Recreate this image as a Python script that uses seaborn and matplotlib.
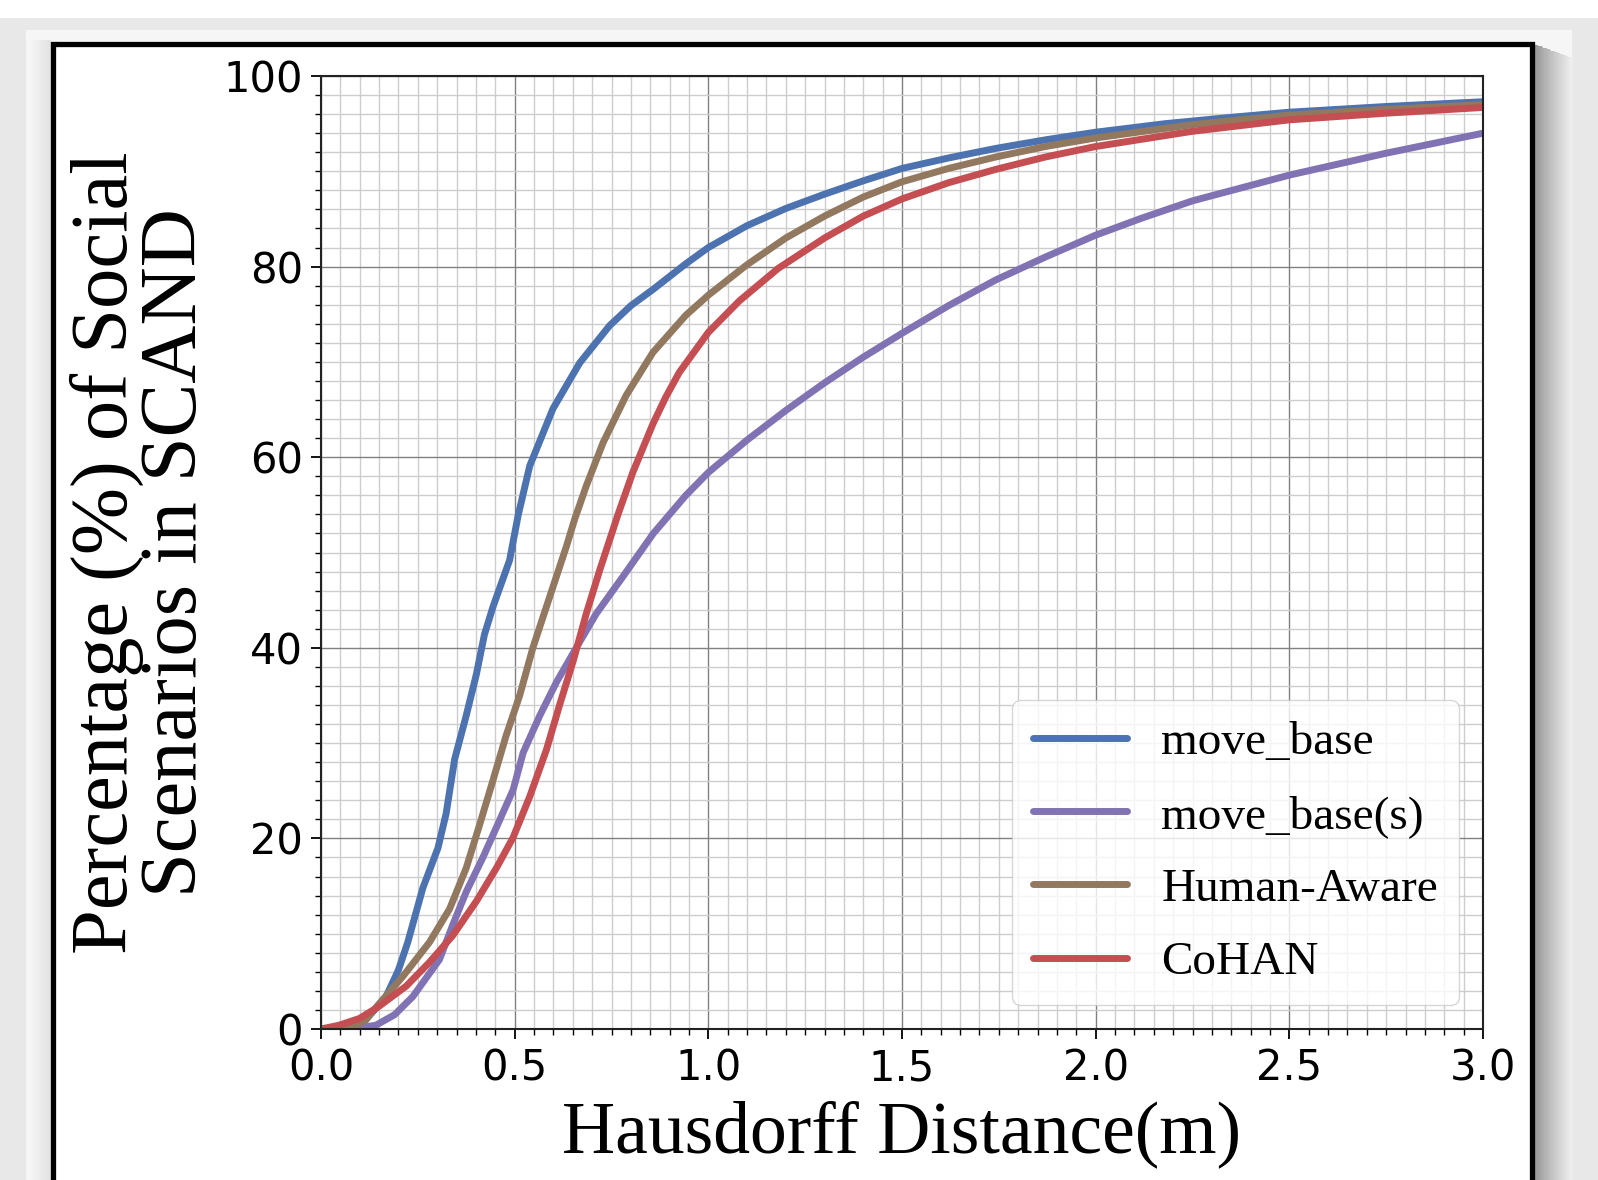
import numpy as np
import pandas as pd
import matplotlib
matplotlib.use("Agg")
import matplotlib.pyplot as plt
from matplotlib.patches import Rectangle
from matplotlib.ticker import MultipleLocator
import seaborn as sns

# values (x = Hausdorff distance in m, y = %)
mb_x = [0.0, 0.05, 0.075, 0.11, 0.145, 0.168, 0.2, 0.224, 0.263, 0.302, 0.323, 0.345, 0.375,
        0.401, 0.422, 0.444, 0.487, 0.509, 0.539, 0.599, 0.668, 0.745, 0.8, 0.857, 0.942, 1.0,
        1.1, 1.2, 1.3, 1.4, 1.5, 1.62, 1.742, 1.87, 2.0, 2.18, 2.36, 2.5, 2.75, 3.0]
mb_y = [0.0, 0.05, 0.2, 0.8, 2.3, 3.4, 6.2, 9.1, 14.8, 19.0, 22.6, 28.3, 32.9,
        37.2, 41.4, 44.3, 49.2, 53.9, 59.1, 65.1, 69.9, 73.8, 75.9, 77.6, 80.3, 82.0,
        84.3, 86.1, 87.6, 89.0, 90.3, 91.4, 92.4, 93.3, 94.1, 95.0, 95.7, 96.2, 96.8, 97.3]

mbs_x = [0.0, 0.082, 0.142, 0.19, 0.237, 0.306, 0.34, 0.375, 0.418, 0.461, 0.496, 0.522,
         0.565, 0.608, 0.659, 0.711, 0.78, 0.858, 0.942, 1.0, 1.1, 1.2, 1.3, 1.4, 1.5,
         1.62, 1.742, 1.87, 2.0, 2.12, 2.25, 2.5, 2.75, 3.0]
mbs_y = [0.0, 0.0, 0.4, 1.5, 3.4, 7.3, 10.9, 14.4, 18.0, 21.9, 25.1, 29.0,
         32.9, 36.4, 40.0, 43.6, 47.5, 52.0, 56.0, 58.4, 61.8, 64.9, 67.8, 70.5, 73.0,
         75.9, 78.6, 81.0, 83.3, 85.1, 86.9, 89.6, 91.9, 94.0]

ha_x = [0.0, 0.05, 0.082, 0.115, 0.147, 0.211, 0.28, 0.332, 0.375, 0.41, 0.444, 0.478,
        0.513, 0.547, 0.59, 0.634, 0.655, 0.685, 0.728, 0.788, 0.857, 0.942, 1.0,
        1.1, 1.2, 1.3, 1.4, 1.5, 1.62, 1.742, 1.87, 2.0, 2.25, 2.5, 2.75, 3.0]
ha_y = [0.0, 0.05, 0.2, 0.9, 2.5, 5.5, 9.1, 12.6, 16.9, 21.5, 26.1, 30.8,
        35.0, 40.0, 45.3, 50.7, 53.5, 57.0, 61.5, 66.5, 71.0, 74.9, 77.0,
        80.2, 83.0, 85.3, 87.3, 88.9, 90.3, 91.5, 92.6, 93.5, 94.9, 95.9, 96.5, 97.0]

co_x = [0.0, 0.047, 0.099, 0.147, 0.22, 0.28, 0.34, 0.401, 0.453, 0.496, 0.539, 0.582,
        0.616, 0.651, 0.685, 0.72, 0.766, 0.805, 0.857, 0.89, 0.925, 1.0, 1.08, 1.18,
        1.3, 1.4, 1.5, 1.62, 1.742, 1.87, 2.0, 2.25, 2.5, 2.75, 3.0]
co_y = [0.0, 0.4, 1.1, 2.3, 4.5, 7.0, 9.8, 13.4, 16.9, 20.1, 24.4, 29.3,
        34.0, 38.6, 43.6, 48.2, 53.9, 58.4, 63.5, 66.3, 68.9, 73.1, 76.4, 79.8,
        83.0, 85.3, 87.1, 88.8, 90.2, 91.5, 92.6, 94.2, 95.4, 96.1, 96.7]

methods = ["move_base", "move_base(s)", "Human-Aware", "CoHAN"]
deep = sns.color_palette("deep")
colors = [deep[0], deep[4], deep[5], deep[3]]

df = pd.concat([
  pd.DataFrame({"x": mb_x, "y": mb_y, "method": methods[0]}),
  pd.DataFrame({"x": mbs_x, "y": mbs_y, "method": methods[1]}),
  pd.DataFrame({"x": ha_x, "y": ha_y, "method": methods[2]}),
  pd.DataFrame({"x": co_x, "y": co_y, "method": methods[3]}),
], ignore_index=True)

sns.set_theme(style="white")
plt.rcParams["font.family"] = ["DejaVu Sans"]
plt.rcParams["text.color"] = "black"
plt.rcParams["axes.labelcolor"] = "black"
plt.rcParams["xtick.color"] = "black"
plt.rcParams["ytick.color"] = "black"

W, H = 1598, 1180
fig = plt.figure(figsize=(W / 100, H / 100), dpi=100)
fig.patch.set_facecolor("white")

def fx(px):
  return px / W

def fy(py):
  return 1 - py / H

# screenshot-like surroundings: gray page, card, shadow, black frame
fig.add_artist(Rectangle((0, 0), 1, fy(18), transform=fig.transFigure,
                         facecolor="#e8e8e8", edgecolor="none", zorder=-10))
fig.add_artist(Rectangle((fx(26), 0), fx(1572) - fx(26), fy(30), transform=fig.transFigure,
                         facecolor="#f6f6f6", edgecolor="none", zorder=-9))
n = 24
for i in range(n):
  g = 0.55 + 0.38 * (i / (n - 1)) ** 0.8
  x0 = 1533 + i * 39 / n
  fig.add_artist(Rectangle((fx(x0), 0), fx(39 / n + 0.6), fy(44 + i * 0.6),
                           transform=fig.transFigure, facecolor=(g, g, g),
                           edgecolor="none", zorder=-8))
for i in range(12):
  g = 0.96 - 0.07 * (i / 11)
  x0 = 30 + i * 20 / 12
  fig.add_artist(Rectangle((fx(x0), 0), fx(20 / 12 + 0.6), fy(40),
                           transform=fig.transFigure, facecolor=(g, g, g),
                           edgecolor="none", zorder=-8))
fig.add_artist(Rectangle((fx(52.5), fy(1260)), fx(1532) - fx(52.5), fy(43.5) - fy(1260),
                         transform=fig.transFigure, facecolor="white", edgecolor="black",
                         lw=3.8, zorder=-5))

ax = fig.add_axes([fx(321), fy(1029), fx(1483) - fx(321), (1029 - 76) / H])
ax.set_facecolor("white")

sns.lineplot(data=df, x="x", y="y", hue="method", hue_order=methods, palette=colors,
             estimator=None, linewidth=5.0, ax=ax)
for line in ax.get_lines():
  line.set_linewidth(5.0)
  line.set_solid_capstyle("round")
  line.set_solid_joinstyle("round")

ax.set_xlim(0, 3)
ax.set_ylim(0, 100)
ax.xaxis.set_major_locator(MultipleLocator(0.5))
ax.xaxis.set_minor_locator(MultipleLocator(0.05))
ax.yaxis.set_major_locator(MultipleLocator(20))
ax.yaxis.set_minor_locator(MultipleLocator(2))
ax.set_axisbelow(True)
ax.grid(which="major", color="#808080", lw=1.0)
ax.grid(which="minor", color="#cdcdcd", lw=1.0)

ax.tick_params(which="major", direction="out", length=7, width=1.3, color="black",
               labelsize=30, bottom=True, left=True, top=False, right=False)
ax.tick_params(axis="x", which="major", pad=6)
ax.tick_params(axis="y", which="major", pad=6)
ax.tick_params(which="minor", direction="out", length=4, width=1.0, color="black",
               bottom=True, left=True, top=False, right=False)
for side in ["left", "bottom", "top", "right"]:
  ax.spines[side].set_color("#222222")
  ax.spines[side].set_linewidth(1.5)

ax.set_xlabel("Hausdorff Distance(m)", family="Liberation Serif", fontsize=53)
ax.set_ylabel("Percentage (%) of Social\nScenarios in SCAND", family="Liberation Serif",
              fontsize=58, linespacing=0.92)
ax.xaxis.set_label_coords(0.5, -0.075)
ax.yaxis.set_label_coords(-0.093, 0.5)

handles, labels = ax.get_legend_handles_labels()
leg = ax.legend(handles, labels, loc="lower right", prop={"family": "Liberation Serif", "size": 34},
                handlelength=2.0, handletextpad=0.72, labelspacing=0.64, borderpad=0.45,
                borderaxespad=0.5, frameon=True, fancybox=True, framealpha=0.8,
                edgecolor="#cccccc")
for line in leg.get_lines():
  line.set_linewidth(5)

plt.savefig("out.png", dpi=100)
